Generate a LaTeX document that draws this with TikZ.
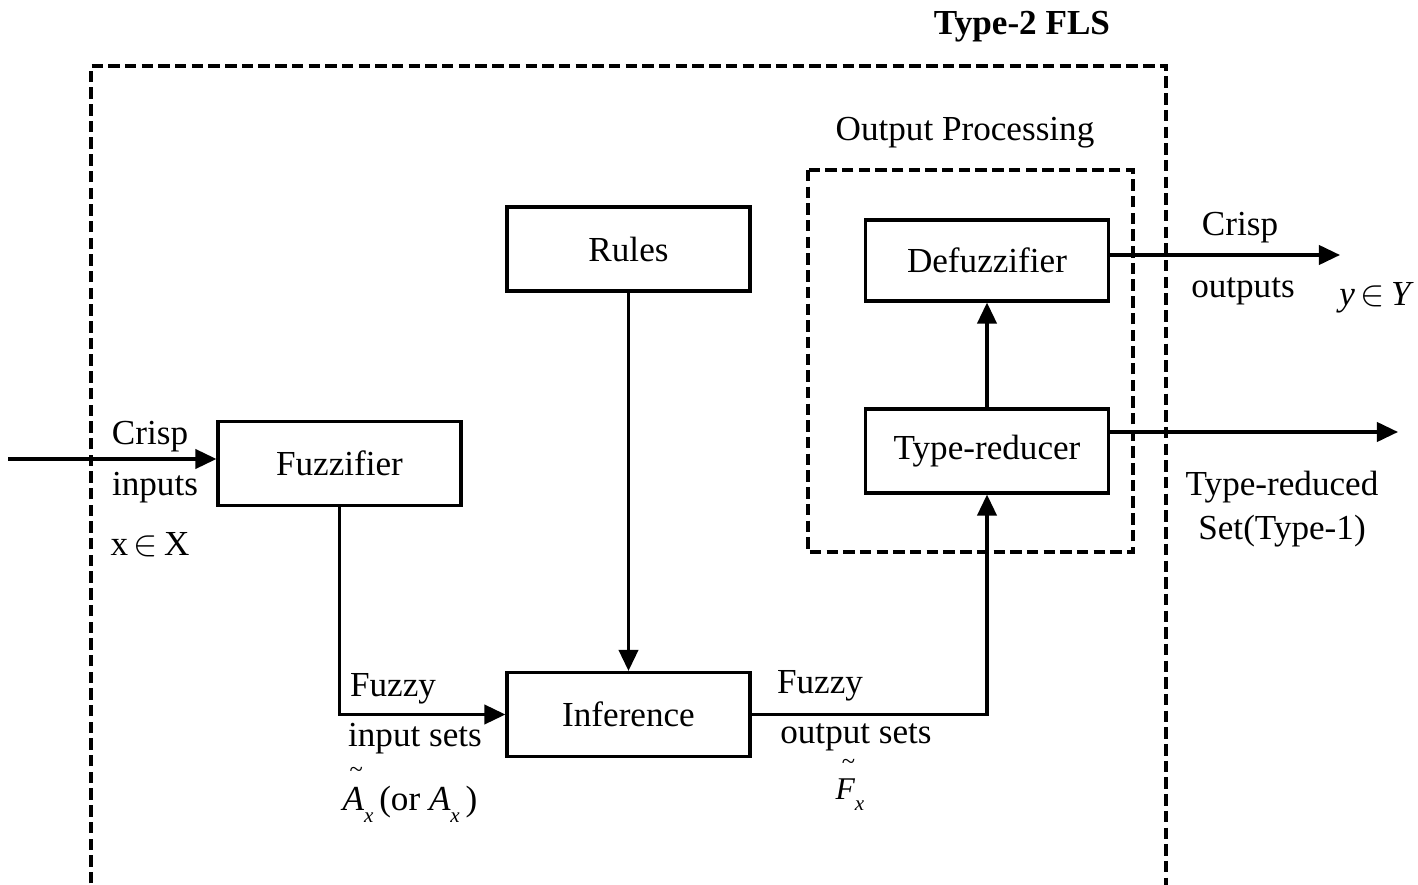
\documentclass[tikz,border=0pt]{standalone}
\usepackage{fontspec}
\setmainfont{Liberation Serif}
\usetikzlibrary{arrows.meta}
\newcommand{\subx}{\raisebox{-0.35em}{\fontsize{12}{12}\selectfont\itshape x}}
\newcommand{\tld}[1]{\makebox[0pt][l]{\raisebox{0.95em}{\hspace{0.2em}\fontsize{14}{14}\selectfont\char"7E}}{\itshape #1}}
\begin{document}
\begin{tikzpicture}[x=0.02cm,y=-0.02cm,
  every node/.style={font=\fontsize{20}{24}\selectfont},
  blk/.style={draw,line width=1.8pt,minimum width=243*0.02cm,minimum height=84*0.02cm,inner sep=0pt},
  conn/.style={line width=1.8pt},
  arr/.style={conn,-{Triangle[length=12pt,width=11pt]}},
  dbox/.style={line width=2.2pt,dash pattern=on 6.5pt off 3pt},
  lbl/.style={inner sep=0pt}]
\useasboundingbox (0,0) rectangle (1418,885);
\begin{scope}
\clip (0,0) rectangle (1418,885);
% outer dashed box
\draw[dbox] (91,900) -- (91,66) -- (1166,66) -- (1166,900);
\end{scope}
% output processing box
\draw[dbox] (808,170) rectangle (1133,552);
\node[lbl] (ttl) at (1022,27) {\bfseries Type-2 FLS};
\node[lbl] (op) at (965,133) {Output Processing};
% blocks
\node[blk] (fuzz) at (339.5,463.5) {Fuzzifier};
\node[blk] (rules) at (628.5,249) {Rules};
\node[blk] (inf) at (628.5,714.5) {Inference};
\node[blk,minimum height=81*0.02cm] (defz) at (987,260.5) {Defuzzifier};
\node[blk] (tr) at (987,451) {Type-reducer};
% connectors
\coordinate (in0) at (8,459);
\draw[arr] (in0) -- (in0 -| fuzz.west);
\coordinate (c1) at (339.5,714.5);
\draw[arr] (fuzz.south) -- (c1) -- (inf.west);
\draw[arr] (rules.south) -- (inf.north);
\coordinate (c2) at (987,714.5);
\draw[arr] (inf.east) -- (c2) -- (tr.south);
\draw[arr] (tr.north) -- (defz.south);
\coordinate (o1) at (1340,255);
\draw[arr] (defz.east |- o1) -- (o1);
\coordinate (o2) at (1398,432);
\draw[arr] (tr.east |- o2) -- (o2);
% labels
\node[lbl] (l1) at (150,437) {Crisp};
\node[lbl] (l2) at (155,488) {inputs};
\node[lbl] (l3) at (150,545) {x\,$\in$\,X};
\node[lbl] (l4) at (393,689) {Fuzzy};
\node[lbl] (l5) at (415,739) {input sets};
\node[lbl] (l6) at (410,795) {\tld{A}\subx\,(or {\itshape A}\subx\,)};
\node[lbl] (l7) at (820,686) {Fuzzy};
\node[lbl] (l8) at (856,737) {output sets};
\node[lbl] (l9) at (850,785) {\fontsize{18}{20}\selectfont\tld{F}\subx};
\node[lbl] (l10) at (1240,228) {Crisp};
\node[lbl] (l11) at (1243,291) {outputs};
\node[lbl] (l12) at (1375,298) {\itshape y\,$\in$\,Y};
\node[lbl] (l13) at (1282,487) {Type-reduced};
\node[lbl] (l14) at (1282,531) {Set(Type-1)};
\end{tikzpicture}
\end{document}
